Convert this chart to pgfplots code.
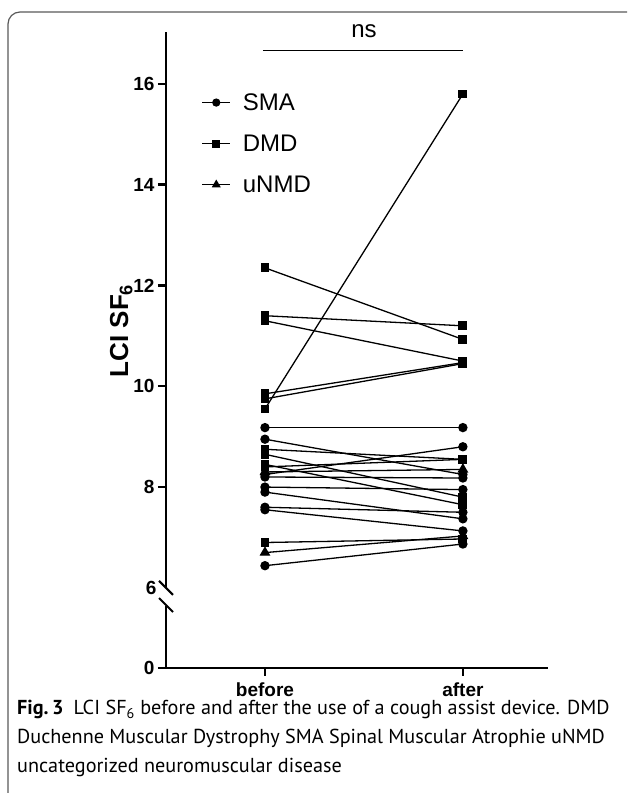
\documentclass[border=0pt]{standalone}
\usepackage{fontspec}
\setmainfont{Liberation Sans}
\newfontfamily\capfont{PT Sans}
\usepackage{pgfplots}
\pgfplotsset{compat=1.18}
\begin{document}
\begin{tikzpicture}[x=1pt,y=1pt]
\useasboundingbox (0,0) rectangle (627,793);
% frame
\draw[line width=1.2pt, black!65, rounded corners=12pt] (8,0) -- (8,781) -- (627,781);
\begin{axis}[
  at={(166pt,125pt)}, anchor=south west,
  scale only axis, width=382pt, height=636pt,
  xmin=-0.5, xmax=1.43, ymin=4.41, ymax=17.03,
  axis x line=bottom, axis y line=left,
  axis line style={line width=2.4pt, -},
  every tick/.style={line width=2.4pt, black},
  tick align=outside, major tick length=8pt,
  xtick={0,1}, xticklabels={before,after},
  ytick={4.41,8,10,12,14,16}, yticklabels={0,8,10,12,14,16},
  extra y ticks={6}, extra y tick labels={6},
  extra y tick style={major tick length=0pt, yticklabel style={xshift=-6pt}},
  /pgf/number format/assume math mode=true,
  tick label style={font=\fontsize{19}{22}\selectfont\bfseries},
  xticklabel style={yshift=-3pt},
  ylabel={LCI SF$_{\mathbf{6}}$},
  ylabel style={font=\fontsize{26}{30}\selectfont\bfseries, at={(ticklabel cs:0.53)}, yshift=-14pt},
  clip=false,
  legend style={draw=none, fill=none, at={(rel axis cs:0.085,0.91)}, anchor=north west,
    font=\fontsize{24}{28}\selectfont, row sep=19pt, cells={anchor=west}},
  legend image code/.code={\draw[#1, mark repeat=2, mark phase=2] plot coordinates {(0pt,0pt) (14pt,0pt) (28pt,0pt)};},
]
\addlegendimage{black, line width=1.2pt, mark=*, mark size=3.5pt}
\addlegendentry{\hspace{10pt}SMA}
\addlegendimage{black, line width=1.2pt, mark=square*, mark size=3.3pt}
\addlegendentry{\hspace{10pt}DMD}
\addlegendimage{black, line width=1.2pt, mark=triangle*, mark size=4pt}
\addlegendentry{\hspace{10pt}uNMD}
\pgfplotsset{dmd/.style={black, line width=1.3pt, mark=square*, mark size=3.8pt, forget plot},
  sma/.style={black, line width=1.3pt, mark=*, mark size=4pt, forget plot},
  unmd/.style={black, line width=1.3pt, mark=triangle*, mark size=5pt, forget plot}}
% DMD
\addplot[dmd] coordinates {(0,12.35) (1,10.93)};
\addplot[dmd] coordinates {(0,11.40) (1,11.20)};
\addplot[dmd] coordinates {(0,11.30) (1,10.50)};
\addplot[dmd] coordinates {(0,9.85) (1,10.47)};
\addplot[dmd] coordinates {(0,9.75) (1,10.45)};
\addplot[dmd] coordinates {(0,9.55) (1,15.80)};
\addplot[dmd] coordinates {(0,8.75) (1,8.55)};
\addplot[dmd] coordinates {(0,8.65) (1,7.80)};
\addplot[dmd] coordinates {(0,8.45) (1,7.65)};
\addplot[dmd] coordinates {(0,8.40) (1,8.55)};
\addplot[dmd] coordinates {(0,6.90) (1,6.97)};
% SMA
\addplot[sma] coordinates {(0,9.18) (1,9.18)};
\addplot[sma] coordinates {(0,8.95) (1,8.25)};
\addplot[sma] coordinates {(0,8.25) (1,8.80)};
\addplot[sma] coordinates {(0,8.00) (1,7.95)};
\addplot[sma] coordinates {(0,7.90) (1,7.37)};
\addplot[sma] coordinates {(0,7.60) (1,7.50)};
\addplot[sma] coordinates {(0,7.55) (1,7.13)};
\addplot[sma] coordinates {(0,6.44) (1,6.87)};
\addplot[sma] coordinates {(0,8.20) (1,8.18)};
% uNMD
\addplot[unmd] coordinates {(0,8.30) (1,8.35)};
\addplot[unmd] coordinates {(0,6.70) (1,7.03)};
% ns
\draw[line width=1.3pt] (axis cs:-0.01,16.66) -- (axis cs:1.0,16.66);
\node[anchor=base, font=\fontsize{24}{28}\selectfont] at (axis cs:0.5,16.92) {ns};
\coordinate (brA) at (axis cs:-0.5,6);
\coordinate (brB) at (axis cs:-0.5,5.66);
\end{axis}
% axis break
\fill[white] ([xshift=-3pt,yshift=-1pt]brB) rectangle ([xshift=3pt,yshift=1pt]brA);
\draw[line width=2pt] ([shift={(-7pt,7pt)}]brA) -- ([shift={(7pt,-7pt)}]brA);
\draw[line width=2pt] ([shift={(-7pt,7pt)}]brB) -- ([shift={(7pt,-7pt)}]brB);
% caption
\node[anchor=base west, inner sep=0pt, font=\capfont\fontsize{20.2}{24}\selectfont] at (17,78)
  {\textbf{Fig.\,3}\enspace LCI SF\textsubscript{6} before and after the use of a cough assist device. DMD};
\node[anchor=base west, inner sep=0pt, font=\capfont\fontsize{20.2}{24}\selectfont] at (17,49)
  {Duchenne Muscular Dystrophy SMA Spinal Muscular Atrophie uNMD};
\node[anchor=base west, inner sep=0pt, font=\capfont\fontsize{20.2}{24}\selectfont] at (17,20)
  {uncategorized neuromuscular disease};
\end{tikzpicture}
\end{document}
